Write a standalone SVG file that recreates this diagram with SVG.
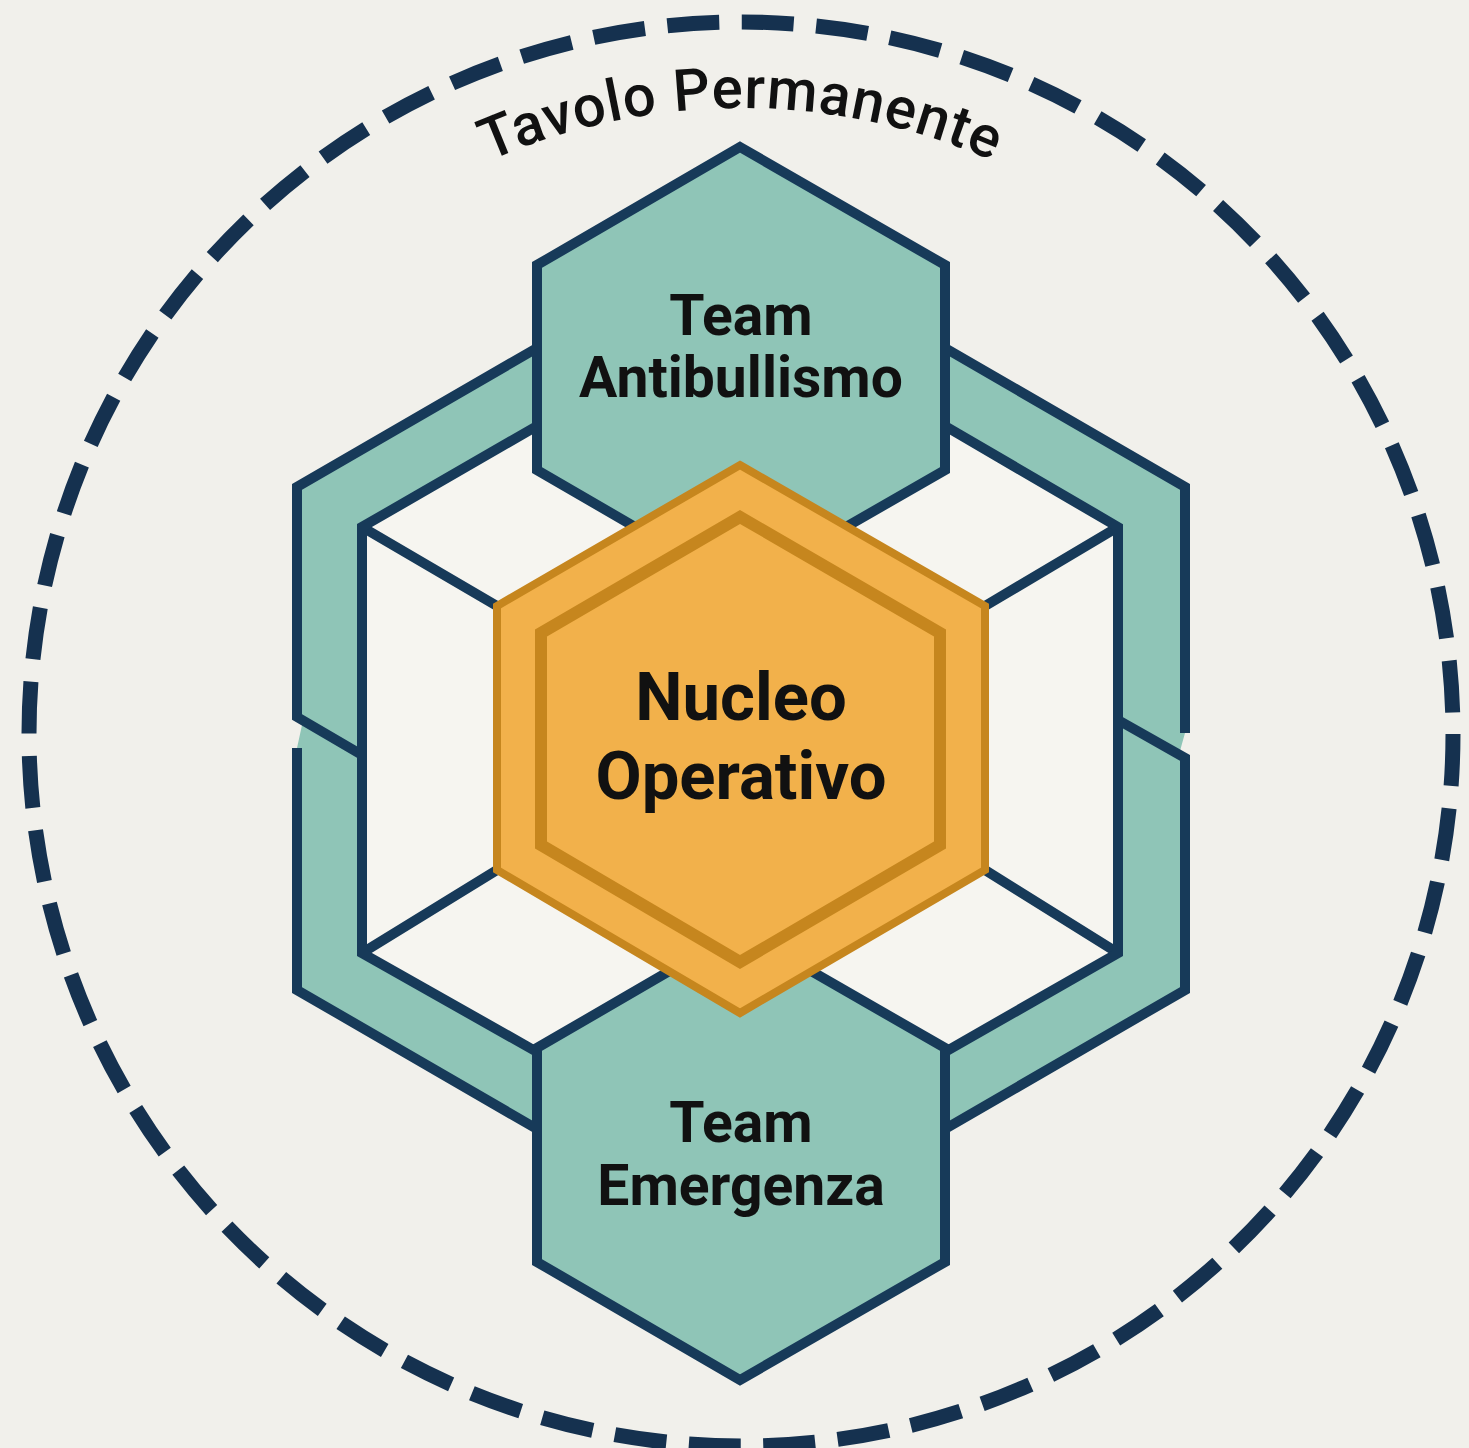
<svg xmlns="http://www.w3.org/2000/svg" width="1469" height="1448" viewBox="0 0 1469 1448">
  <defs>
    <style>
      .ring { fill: #8fc5b7; stroke: none; }
      .line { fill: none; stroke: #173a59; stroke-width: 10; stroke-linejoin: miter; stroke-linecap: butt; }
      .team { fill: #8fc5b7; stroke: #173a59; stroke-width: 10; stroke-linejoin: miter; }
      .lbl { font-family: Roboto, "Liberation Sans", sans-serif; font-weight: 700; fill: #111; text-anchor: middle; }
    </style>
    <path id="arc" d="M198.9,421 A626,626 0 0 1 1283.1,421"/>
  </defs>
  <rect width="1469" height="1448" fill="#f1f0eb"/>

  <g id="tavolo">
    <circle cx="741" cy="734" r="712" fill="none" stroke="#15314f" stroke-width="15" stroke-dasharray="52 22.57"/>
    <text font-family="Roboto, 'Liberation Sans', sans-serif" font-weight="500" font-size="58" letter-spacing="1" fill="#111" text-anchor="middle">
      <textPath href="#arc" startOffset="50%">Tavolo Permanente</textPath>
    </text>
  </g>

  <g id="connectors">
    <polygon points="362,527 740,309 1118,527 1118,953 740,1171 362,953" fill="#f6f5f0"/>
    <path class="line" d="M362,527 L497,606 M1118,527 L985,606 M362,953 L497,870 M1118,953 L985,870"/>
    <polygon class="ring" points="297,748 303,720.5 362,755 362,953 537,1052 537,1129 297,990"/>
    <polygon class="ring" points="537,348 297,487 297,717 362,755 362,527 537,426"/>
    <polygon class="ring" points="945,348 1185,487 1185,733 1179,754.6 1118,720 1118,527 945,426"/>
    <polygon class="ring" points="1118,720 1185,758 1185,990 945,1129 945,1052 1118,953"/>
    <path class="line" d="M537,348 L297,487 L297,717 L362,755 M297,748 L297,990 L537,1129 M537,426 L362,527 L362,953 L537,1052"/>
    <path class="line" d="M945,348 L1185,487 L1185,733 M1118,720 L1185,758 L1185,990 L945,1129 M945,426 L1118,527 L1118,953 L945,1052"/>
  </g>

  <g id="team-antibullismo">
    <polygon class="team" points="740,147 945,265 945,470 740,588 537,470 537,265"/>
    <text class="lbl" x="741" y="335" font-size="57">Team</text>
    <text class="lbl" x="741" y="397" font-size="57">Antibullismo</text>
  </g>

  <g id="team-emergenza">
    <polygon class="team" points="740,930 945,1048 945,1262 740,1380 537,1262 537,1048"/>
    <text class="lbl" x="741" y="1142" font-size="57">Team</text>
    <text class="lbl" x="741" y="1205" font-size="57">Emergenza</text>
  </g>

  <g id="nucleo-operativo">
    <polygon points="740,465 985,606 985,870 740,1013 497,870 497,606" fill="#f2b14b" stroke="#c6861e" stroke-width="8"/>
    <polygon points="740,517 940,633 940,845 740,962 541,845 541,633" fill="#f2b14b" stroke="#c6861e" stroke-width="12"/>
    <text class="lbl" x="741" y="720" font-size="67">Nucleo</text>
    <text class="lbl" x="741" y="799" font-size="67">Operativo</text>
  </g>
</svg>
